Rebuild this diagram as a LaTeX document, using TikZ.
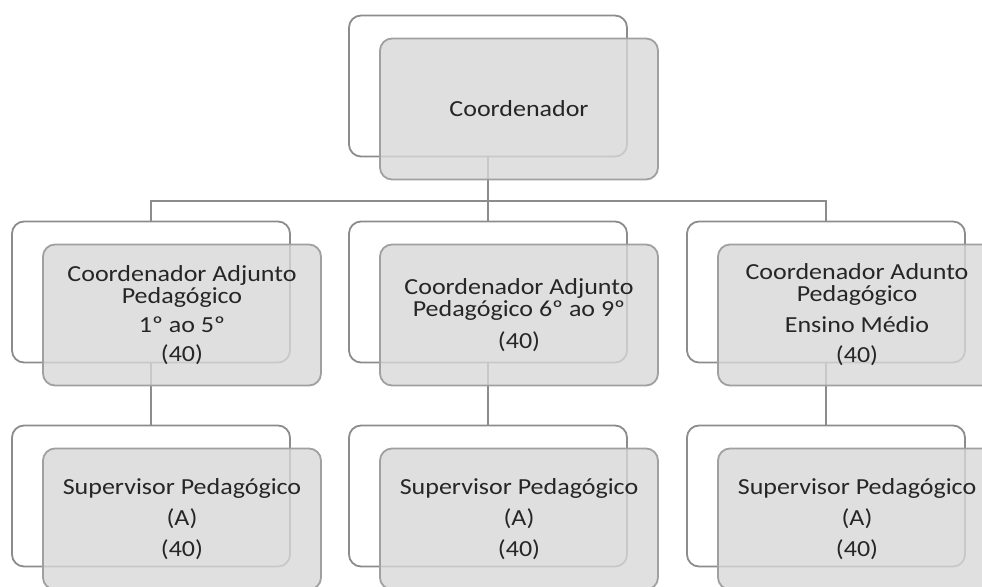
\documentclass[tikz,border=0pt]{standalone}
\usepackage{fontspec}
\setmainfont{Carlito}[FakeStretch=1.13]
\usepackage{tikz}
\definecolor{boxline}{HTML}{8C8C8C}
\definecolor{frontline}{HTML}{A0A0A0}
\definecolor{frontfill}{HTML}{D8D8D8}
\definecolor{boxtext}{HTML}{262626}
\tikzstyle{every node}=[inner sep=0pt, text=boxtext, font=\fontsize{23}{22}\selectfont]

\begin{document}
\begin{tikzpicture}[x=1pt, y=-1pt,
    backbox/.style={%
        draw=boxline, line width=1.8pt, fill=white,
        rounded corners=12pt,
        minimum width=278pt, minimum height=141pt},
    frontbox/.style={%
        draw=frontline, line width=1.8pt, fill=frontfill,
        fill opacity=0.8, text opacity=1,
        rounded corners=12pt, align=center,
        minimum width=278pt, minimum height=141pt,
        xshift=31pt, yshift=-23pt}, % Offset of the front card
    link/.style={draw=boxline, line width=2pt},
]
    \useasboundingbox (0,0) rectangle (982,586);

    % Back cards
    \node[backbox] (chiefbg) at (488,86) {};
    \node[backbox] (adj1bg) at (151,292) {};
    \node[backbox] (adj2bg) at (488,292) {};
    \node[backbox] (adj3bg) at (826,292) {};
    \node[backbox] (sup1bg) at (151,496) {};
    \node[backbox] (sup2bg) at (488,496) {};
    \node[backbox] (sup3bg) at (826,496) {};

    % Connectors
    \coordinate (bus) at (488,201);
    \draw[link] (chiefbg.south) -- (bus);
    \draw[link] (bus) -| (adj1bg.north);
    \draw[link] (bus) -- (adj2bg.north);
    \draw[link] (bus) -| (adj3bg.north);
    \draw[link] (adj1bg.south) -- (sup1bg.north);
    \draw[link] (adj2bg.south) -- (sup2bg.north);
    \draw[link] (adj3bg.south) -- (sup3bg.north);

    % Coordenador
    \node[frontbox] (chief) at (chiefbg) {Coordenador};

    % Adjuntos
    \node[frontbox] (adj1) at (adj1bg) {Coordenador Adjunto\\Pedagógico\\[7pt]1º ao 5º\\[7pt](40)};
    \node[frontbox] (adj2) at (adj2bg) {Coordenador Adjunto\\Pedagógico 6º ao 9º\\[10pt](40)};
    \node[frontbox] (adj3) at (adj3bg) {Coordenador Adunto\\Pedagógico\\[9pt]Ensino Médio\\[8pt](40)};

    % Supervisores
    \node[frontbox] (sup1) at (sup1bg) {Supervisor Pedagógico\\[9pt](A)\\[9pt](40)};
    \node[frontbox] (sup2) at (sup2bg) {Supervisor Pedagógico\\[9pt](A)\\[9pt](40)};
    \node[frontbox] (sup3) at (sup3bg) {Supervisor Pedagógico\\[9pt](A)\\[9pt](40)};
\end{tikzpicture}
\end{document}
